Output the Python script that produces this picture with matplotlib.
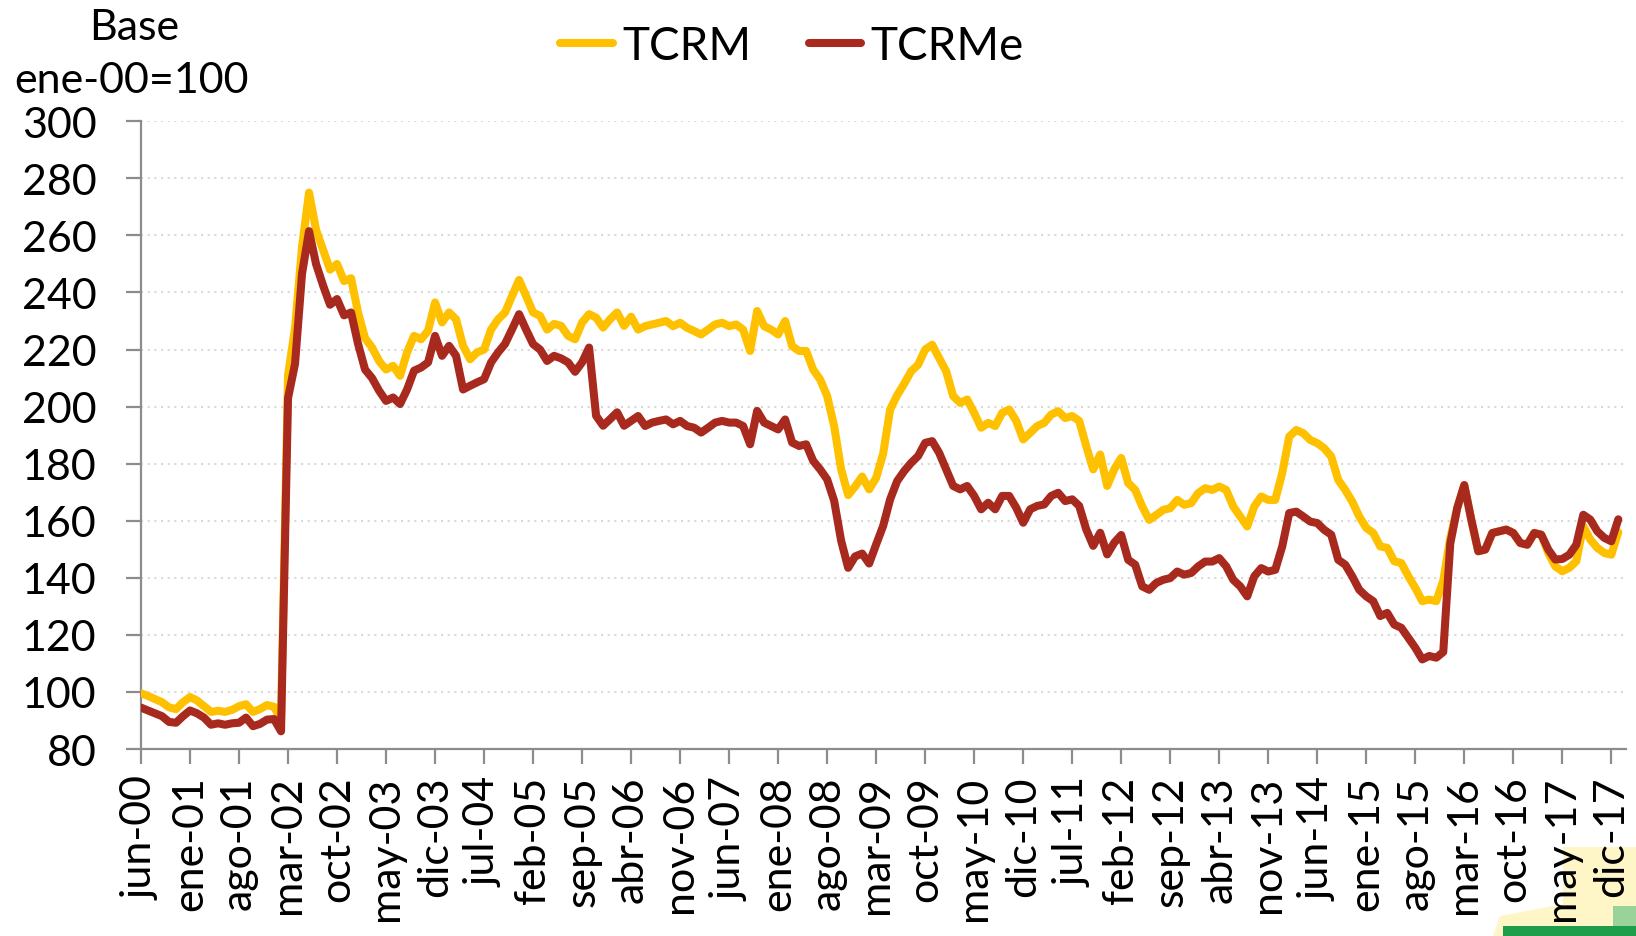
import matplotlib
matplotlib.use("Agg")
import matplotlib.pyplot as plt
from matplotlib.patches import Polygon, Rectangle

plt.rcParams['font.family'] = ['Lato', 'DejaVu Sans']

# Monthly index values, jun-00 ... ene-18 (base ene-00 = 100)
tcrm = [
    99.5, 98.6, 97.5, 96.4, 94.6, 94.0, 96.4, 98.2, 97.0, 95.0,
    93.0, 93.4, 93.0, 93.7, 95.0, 95.7, 93.0, 94.0, 95.4, 94.8,
    90.5, 211.0, 227.5, 256.0, 275.0, 262.0, 255.0, 248.0, 250.0, 244.0,
    245.0, 233.0, 224.0, 220.7, 216.0, 213.0, 214.3, 210.8, 219.0, 224.8,
    223.6, 226.6, 236.5, 229.5, 233.0, 230.6, 221.3, 216.6, 219.0, 220.0,
    227.0, 230.6, 233.0, 238.8, 244.4, 238.8, 233.0, 231.8, 227.0, 229.0,
    228.3, 224.8, 223.6, 229.5, 232.4, 231.2, 227.7, 230.6, 233.0, 228.3,
    231.5, 227.0, 228.2, 228.8, 229.4, 230.0, 228.2, 229.4, 227.6, 226.5,
    225.3, 227.0, 228.8, 229.4, 228.2, 228.8, 227.0, 219.5, 233.5, 228.2,
    227.0, 225.3, 230.0, 221.2, 219.5, 219.5, 213.0, 209.5, 203.7, 193.2,
    178.0, 169.0, 172.0, 175.5, 171.0, 175.0, 183.5, 199.0, 204.0, 208.0,
    212.4, 214.7, 220.0, 221.7, 217.0, 212.4, 203.7, 201.3, 202.5, 197.8,
    192.6, 194.3, 193.2, 197.8, 199.0, 195.0, 188.5, 190.8, 193.2, 194.3,
    197.2, 198.4, 196.0, 196.7, 195.0, 186.2, 178.0, 183.2, 172.2, 178.0,
    182.0, 173.2, 170.8, 165.0, 160.3, 162.0, 163.8, 164.4, 167.3, 165.6,
    166.2, 169.7, 171.4, 170.8, 172.0, 170.8, 165.0, 161.5, 158.0, 165.0,
    168.5, 167.3, 167.3, 176.7, 189.5, 191.8, 190.7, 188.3, 187.2, 185.4,
    182.5, 174.3, 170.8, 166.7, 161.5, 157.5, 155.7, 151.0, 150.5, 145.8,
    145.2, 140.6, 136.5, 131.8, 132.4, 131.8, 139.0, 154.0, 164.5, 172.5,
    160.4, 149.3, 149.9, 155.7, 156.3, 156.9, 155.7, 152.2, 151.6, 155.7,
    155.1, 148.7, 144.0, 142.3, 143.5, 145.8, 158.1, 153.4, 150.5, 148.7,
    148.1, 156.0,
]

tcrme = [
    94.5, 93.5, 92.5, 91.5, 89.5, 89.2, 91.5, 93.5, 92.5, 91.0,
    88.5, 89.0, 88.5, 89.0, 89.2, 91.0, 88.0, 88.8, 90.3, 90.5,
    86.2, 203.0, 215.0, 246.6, 261.5, 250.0, 242.5, 235.7, 237.7, 232.0,
    233.0, 222.0, 213.0, 210.0, 205.6, 202.0, 203.2, 200.9, 206.0, 212.6,
    213.7, 215.5, 224.8, 217.8, 221.3, 217.8, 206.0, 207.3, 208.5, 209.6,
    215.5, 219.0, 222.0, 227.1, 232.4, 227.0, 221.9, 220.0, 216.0, 217.8,
    216.9, 215.5, 212.2, 215.5, 220.7, 196.8, 193.3, 195.6, 198.0, 193.3,
    195.0, 196.7, 193.2, 194.4, 195.0, 195.5, 193.8, 195.0, 193.2, 192.6,
    190.9, 192.6, 194.4, 195.0, 194.4, 194.4, 193.2, 186.8, 198.5, 194.4,
    193.2, 192.0, 195.5, 187.4, 186.2, 186.8, 181.0, 178.0, 174.5, 167.0,
    153.0, 143.5, 147.5, 148.5, 145.0, 151.7, 158.2, 167.5, 173.9, 177.4,
    180.3, 182.7, 187.3, 187.9, 183.8, 178.0, 172.2, 171.0, 172.2, 168.7,
    164.0, 166.3, 164.0, 168.7, 168.7, 164.6, 159.3, 164.0, 165.2, 165.7,
    168.7, 169.8, 166.9, 167.5, 165.2, 157.0, 151.2, 155.8, 148.2, 152.3,
    155.0, 146.3, 144.6, 137.0, 135.8, 138.2, 139.3, 139.9, 142.2, 141.1,
    141.7, 144.0, 145.7, 145.7, 146.9, 144.0, 139.3, 137.0, 133.5, 140.5,
    143.4, 142.2, 142.8, 151.0, 162.7, 163.2, 161.5, 159.7, 159.2, 156.8,
    155.1, 146.3, 144.6, 140.5, 135.8, 133.5, 131.8, 126.6, 127.7, 123.6,
    122.5, 119.0, 115.5, 111.4, 112.6, 112.0, 114.0, 152.0, 164.5, 172.5,
    160.4, 149.3, 149.9, 155.7, 156.3, 156.9, 155.7, 152.2, 151.6, 155.7,
    155.1, 149.9, 146.4, 146.6, 148.1, 151.6, 162.1, 160.4, 156.3, 154.0,
    152.8, 160.5,
]

tick_labels = [
    "jun-00", "ene-01", "ago-01", "mar-02", "oct-02", "may-03", "dic-03",
    "jul-04", "feb-05", "sep-05", "abr-06", "nov-06", "jun-07", "ene-08",
    "ago-08", "mar-09", "oct-09", "may-10", "dic-10", "jul-11", "feb-12",
    "sep-12", "abr-13", "nov-13", "jun-14", "ene-15", "ago-15", "mar-16",
    "oct-16", "may-17", "dic-17",
]
tick_step = 7
y_ticks = [80, 100, 120, 140, 160, 180, 200, 220, 240, 260, 280, 300]

W, H = 1636, 937
fig = plt.figure(figsize=(W / 100, H / 100), dpi=100)
ax = fig.add_axes([141 / W, (H - 750) / H, (1626 - 141) / W, (750 - 122.3) / H])

x = list(range(len(tcrm)))
YEL = "#FFC000"
RED = "#A82A1F"
ax.plot(x, tcrm, color=YEL, lw=5.8, solid_joinstyle="round", solid_capstyle="round",
        label="TCRM", zorder=3)
ax.plot(x, tcrme, color=RED, lw=5.8, solid_joinstyle="round", solid_capstyle="round",
        label="TCRMe", zorder=4)

ax.set_xlim(0, 212.1)
ax.set_ylim(80, 300)
ax.set_yticks(y_ticks)
ax.set_yticklabels([str(v) for v in y_ticks])
ax.set_xticks([i * tick_step for i in range(len(tick_labels))])
ax.set_xticklabels(tick_labels, rotation=90, va="top", ha="center")

GRAY = "#8C8C8C"
for s in ["top", "right"]:
    ax.spines[s].set_visible(False)
for s in ["left", "bottom"]:
    ax.spines[s].set_color(GRAY)
    ax.spines[s].set_linewidth(1.6)

ax.tick_params(axis="y", direction="out", length=11, width=1.6, color=GRAY,
               labelsize=31, pad=21, labelcolor="black")
ax.tick_params(axis="x", direction="out", length=11, width=1.6, color=GRAY,
               labelsize=31, pad=8, labelcolor="black")

ax.yaxis.grid(True, color="#D9D9D9", linestyle=(0, (1, 2.2)), linewidth=1.5)
ax.set_axisbelow(True)

leg = ax.legend(loc="center", bbox_to_anchor=(792 / W, 1 - 47 / H),
                bbox_transform=fig.transFigure, ncol=2, frameon=False,
                fontsize=33, handlelength=1.15, handletextpad=0.2,
                columnspacing=1.25, borderpad=0)
for line in leg.get_lines():
    line.set_linewidth(5.8)

fig.text(134 / W, 1 - 28 / H, "Base", ha="center", va="center", fontsize=31)
fig.text(132 / W, 1 - 81 / H, "ene-00=100", ha="center", va="center", fontsize=31)

# decorative artefact in the lower-right corner of the reference
fig.patches.append(Polygon([[1563 / W, 1 - 848 / H], [1636 / W, 1 - 848 / H],
                            [1636 / W, 0], [1493 / W, 0], [1500 / W, 1 - 917 / H],
                            [1563 / W, 1 - 905 / H]],
                           closed=True, transform=fig.transFigure,
                           facecolor="#FFF6C8", edgecolor="none", zorder=-1))
fig.patches.append(Rectangle((1613 / W, 1 - 937 / H), 23 / W, 30 / H,
                             transform=fig.transFigure, facecolor="#9AD39A",
                             edgecolor="none", zorder=-1))
fig.patches.append(Rectangle((1503 / W, 0), 133 / W, 10 / H,
                             transform=fig.transFigure, facecolor="#1E9E4A",
                             edgecolor="none", zorder=-1))

fig.savefig("out.png", dpi=100)
